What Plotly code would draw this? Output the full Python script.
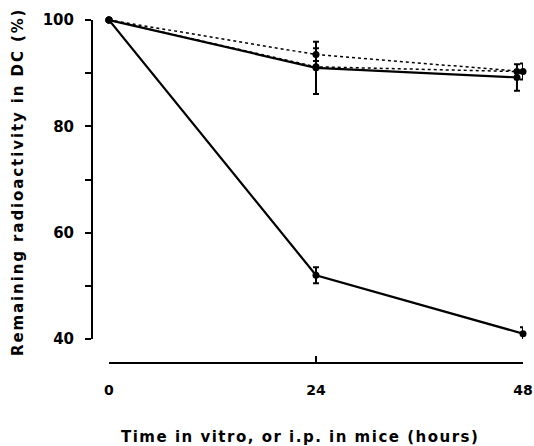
import plotly.graph_objects as go

time_a = [0, 24, 48]
vitro_low = [100, 52, 41]
vitro_low_err = [0, 1.5, 1.2]

time_b = [0, 24, 47.3]
mice_solid = [100, 91, 89.2]
mice_solid_err = [0, 4.9, 2.5]

time_c = [0, 24, 48]
dotted_upper = [100, 93.5, 90.3]
dotted_upper_err = [0, 1.2, 1.5]

time_d = [0, 24, 47.3]
dotted_lower = [100, 91.2, 90.3]

y_tickvals = [40, 50, 60, 70, 80, 90, 100]
y_ticktext = ["40", "", "60", "", "80", "", "100"]
x_tickvals = [0, 24, 48]
x_ticktext = ["0", "24", "48"]

FONT = "DejaVu Sans"

fig = go.Figure()

def add(x, y, err, dash, width):
    fig.add_trace(go.Scatter(
        x=x, y=y, mode="lines+markers",
        line=dict(color="black", width=width, dash=dash),
        marker=dict(color="black", size=7, symbol="circle"),
        error_y=dict(type="data", array=err, visible=err is not None,
                     color="black", thickness=2, width=3),
        cliponaxis=False, showlegend=False))

add(time_d, dotted_lower, None, "dot", 1.5)
add(time_c, dotted_upper, dotted_upper_err, "dot", 1.5)
add(time_b, mice_solid, mice_solid_err, "solid", 2.2)
add(time_a, vitro_low, vitro_low_err, "solid", 2.2)

fig.update_layout(
    width=534, height=446,
    margin=dict(l=92, r=11, t=20, b=83, autoexpand=False),
    paper_bgcolor="white", plot_bgcolor="white",
    font=dict(family=FONT, color="black"),
    xaxis=dict(range=[0, 48], domain=[0.0394, 1], anchor="free", position=0,
               automargin=False,
               showline=True, linecolor="black", linewidth=2,
               ticks="inside", ticklen=6, tickwidth=2, tickcolor="black",
               tickvals=x_tickvals, ticktext=x_ticktext, ticklabelstandoff=14,
               tickfont=dict(size=14, family=FONT, weight="bold"),
               showgrid=False, zeroline=False),
    yaxis=dict(range=[40, 100], domain=[0.07, 1], anchor="free", position=0,
               automargin=False,
               showline=True, linecolor="black", linewidth=2,
               ticks="outside", ticklen=6, tickwidth=2, tickcolor="black",
               tickvals=y_tickvals, ticktext=y_ticktext, ticklabelstandoff=8,
               tickfont=dict(size=15, family=FONT, weight="bold"),
               showgrid=False, zeroline=False),
    annotations=[
        dict(text='<span style="letter-spacing:1.9px">Remaining radioactivity in DC (%)</span>',
             xref="paper", yref="paper", xanchor="center", yanchor="middle",
             x=(18 - 92) / 431, y=(363 - 182) / 343, textangle=-90, showarrow=False,
             font=dict(size=15, family=FONT, weight="bold")),
        dict(text='<span style="letter-spacing:1.5px">Time in vitro, or i.p. in mice (hours)</span>',
             xref="paper", yref="paper", xanchor="center", yanchor="middle",
             x=(300 - 92) / 431, y=(363 - 437) / 343, showarrow=False,
             font=dict(size=15, family=FONT, weight="bold")),
    ],
)

fig.write_html("out.html", config={"displayModeBar": False},
               post_script="document.body.style.margin='0';document.body.style.overflow='hidden';")
